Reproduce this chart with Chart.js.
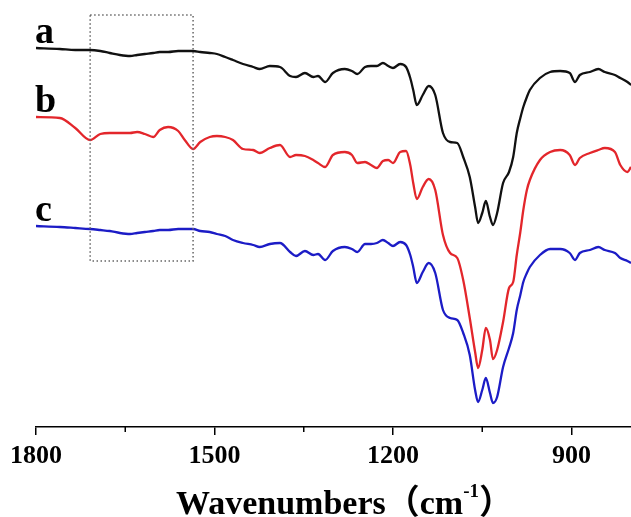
<!DOCTYPE html>
<html>
<head>
<meta charset="utf-8">
<script src="https://cdn.jsdelivr.net/npm/chart.js@4.4.0/dist/chart.umd.min.js"></script>
<style>
  html, body { margin: 0; padding: 0; background: #fff; }
</style>
</head>
<body>
<canvas id="ftirChart" width="631" height="517"></canvas>
<script>
// wavenumbers (cm-1), x axis runs from 1800 down to 800
const wavenumbers = [
  1800, 1760, 1734, 1709, 1692, 1676, 1659, 1642, 1630, 1617,
  1603, 1592, 1578, 1561, 1550, 1536, 1524, 1508, 1496, 1482,
  1469, 1452, 1435, 1424, 1407, 1390, 1373, 1363, 1348, 1334,
  1326, 1314, 1301, 1281, 1269, 1260, 1247, 1237, 1227, 1217,
  1208, 1200, 1188, 1178, 1171, 1166, 1160, 1150, 1140, 1129,
  1116, 1104, 1092, 1082, 1071, 1062, 1057, 1050, 1044, 1037,
  1032, 1025, 1015, 1005, 998, 992, 986, 981, 975, 970,
  953, 936, 919, 903, 894, 886, 869, 855, 844, 827,
  818, 806, 800
];

// transmittance, arbitrary units (curves are stacked)
const curveA = [
  379, 378, 377, 377, 376, 374, 372, 371, 372, 373,
  374, 375, 375, 376, 376, 376, 375, 374, 373, 370,
  367, 363, 360, 358, 361, 360, 351, 350, 354, 350,
  351, 345, 354, 358, 356, 353, 360, 361, 361, 364,
  361, 359, 363, 360, 349, 337, 322, 332, 341, 332,
  294, 285, 284, 270, 250, 220, 204, 214, 226, 210,
  202, 214, 244, 255, 270, 294, 309, 320, 330, 337,
  349, 355, 356, 354, 345, 352, 355, 358, 355, 352,
  349, 345, 342
];

const curveB = [
  310, 309, 299, 287, 293, 294, 294, 294, 295, 293,
  290, 297, 300, 296, 287, 278, 285, 290, 291, 290,
  287, 278, 277, 274, 279, 282, 270, 272, 271, 267,
  264, 260, 272, 275, 272, 264, 265, 262, 259, 266,
  267, 264, 275, 276, 262, 244, 228, 240, 248, 237,
  192, 174, 169, 147, 109, 75, 59, 77, 99, 87,
  68, 77, 105, 139, 145, 172, 195, 217, 237, 247,
  267, 275, 277, 272, 262, 269, 274, 277, 279, 275,
  262, 255, 260
];

const curveC = [
  201, 200, 199, 198, 197, 196, 194, 193, 194, 195,
  196, 197, 197, 198, 198, 198, 196, 195, 193, 191,
  187, 184, 182, 180, 183, 184, 175, 171, 176, 172,
  173, 167, 176, 180, 178, 175, 183, 183, 184, 187,
  184, 181, 185, 182, 172, 160, 144, 155, 164, 154,
  117, 109, 107, 94, 72, 37, 25, 37, 49, 34,
  24, 30, 60, 79, 94, 117, 132, 145, 154, 160,
  172, 178, 178, 174, 167, 174, 177, 180, 177, 174,
  169, 166, 164
];

const seriesLabels = ['a', 'b', 'c'];
const seriesColors = ['#111111', '#e3262b', '#1c1cc6'];
const majorTicks = [1800, 1500, 1200, 900];
const minorTicks = [1650, 1350, 1050];

// dotted box marking the 1709-1536 cm-1 region
const boxWavenumbers = [1709, 1536];
const boxLevels = [412, 166];

const serif = '"Liberation Serif", "Times New Roman", serif';

function toPoints(values) {
  return wavenumbers.map((w, i) => ({ x: w, y: values[i] }));
}

// extras: dotted box, minor ticks, curve letters, axis title with superscript
const decorPlugin = {
  id: 'decor',
  afterDatasetsDraw(chart) {
    const { ctx, scales: { x, y } } = chart;
    ctx.save();

    const bx0 = x.getPixelForValue(boxWavenumbers[0]);
    const bx1 = x.getPixelForValue(boxWavenumbers[1]);
    const by0 = y.getPixelForValue(boxLevels[0]);
    const by1 = y.getPixelForValue(boxLevels[1]);
    ctx.strokeStyle = '#666';
    ctx.lineWidth = 1.5;
    ctx.setLineDash([1.5, 2.5]);
    ctx.strokeRect(bx0, by0, bx1 - bx0, by1 - by0);
    ctx.setLineDash([]);

    ctx.strokeStyle = '#000';
    ctx.lineWidth = 1.5;
    minorTicks.forEach(v => {
      const px = x.getPixelForValue(v);
      ctx.beginPath();
      ctx.moveTo(px, x.top);
      ctx.lineTo(px, x.top + 5);
      ctx.stroke();
    });

    ctx.fillStyle = '#000';
    ctx.font = 'bold 38px ' + serif;
    ctx.textBaseline = 'alphabetic';
    ctx.textAlign = 'left';
    chart.data.datasets.forEach((ds, i) => {
      const px = x.getPixelForValue(ds.data[0].x);
      const py = y.getPixelForValue(ds.data[0].y);
      ctx.fillText(seriesLabels[i], px - 1, py - 5);
    });

    // title: Wavenumbers（cm-1）, -1 raised
    const mainFont = 'bold 34px ' + serif + ', "Noto Sans CJK SC"';
    const supFont = 'bold 19px ' + serif;
    const part1 = 'Wavenumbers\uFF08cm';
    const sup = '-1';
    const part2 = '\uFF09';
    ctx.font = mainFont;
    const w1 = ctx.measureText(part1).width;
    const w3 = ctx.measureText(part2).actualBoundingBoxRight;
    ctx.font = supFont;
    const w2 = ctx.measureText(sup).width;
    const cx = (chart.chartArea.left + chart.chartArea.right) / 2;
    let tx = cx - (w1 + w2 + w3) / 2;
    const base = 514;
    ctx.font = mainFont;
    ctx.fillText(part1, tx, base);
    tx += w1;
    ctx.font = supFont;
    ctx.fillText(sup, tx, base - 17);
    tx += w2;
    ctx.font = mainFont;
    ctx.fillText(part2, tx, base);

    ctx.restore();
  }
};

const ctx = document.getElementById('ftirChart').getContext('2d');
const ftirChart = new Chart(ctx, {
  type: 'line',
  data: {
    datasets: [curveA, curveB, curveC].map((vals, i) => ({
      label: seriesLabels[i],
      data: toPoints(vals),
      borderColor: seriesColors[i],
      borderWidth: 2.3,
      pointRadius: 0,
      cubicInterpolationMode: 'monotone',
      fill: false
    }))
  },
  options: {
    responsive: false,
    animation: false,
    layout: { padding: { left: 36, right: 0, top: 0, bottom: 0 } },
    plugins: {
      legend: { display: false },
      tooltip: { enabled: false }
    },
    scales: {
      x: {
        type: 'linear',
        reverse: true,
        min: 800,
        max: 1800,
        afterBuildTicks: scale => { scale.ticks = majorTicks.map(v => ({ value: v })); },
        afterFit: scale => { scale.height = 90; },
        border: { display: true, color: '#000', width: 1.5 },
        grid: { drawOnChartArea: false, drawTicks: true, tickLength: 8, color: '#000', lineWidth: 1.5 },
        ticks: {
          color: '#000',
          autoSkip: false,
          maxRotation: 0,
          padding: 6,
          callback: v => String(v),
          font: { family: serif, size: 26, weight: 'bold' }
        }
      },
      y: { display: false, min: 0, max: 427 }
    }
  },
  plugins: [decorPlugin]
});
</script>
</body>
</html>
